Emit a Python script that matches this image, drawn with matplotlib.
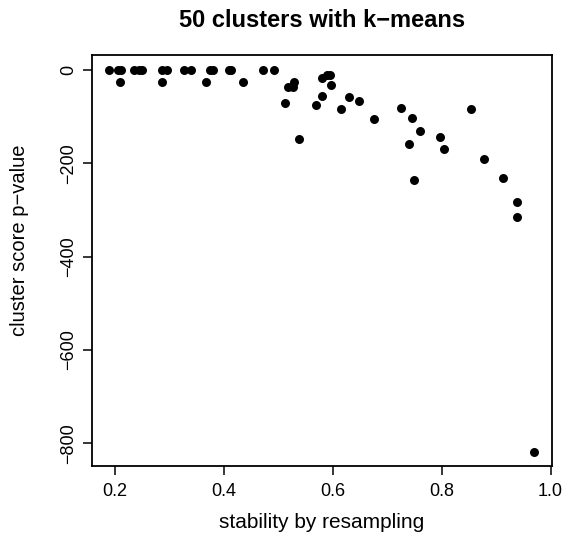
import matplotlib
matplotlib.use("Agg")
import matplotlib.pyplot as plt
import numpy as np

plt.rcParams['font.family'] = ['Liberation Sans', 'DejaVu Sans']

# stability by resampling (x) and cluster score p-value (y)
stability = [0.189, 0.205, 0.211, 0.234, 0.243, 0.249, 0.287, 0.296, 0.327, 0.340,
             0.374, 0.379, 0.409, 0.413, 0.471, 0.492,
             0.209, 0.286, 0.367, 0.435,
             0.513, 0.518, 0.527, 0.529, 0.537, 0.569, 0.580, 0.589, 0.594, 0.597,
             0.581, 0.615, 0.630, 0.649, 0.676, 0.725, 0.746, 0.761, 0.740, 0.797,
             0.804, 0.854, 0.878, 0.750, 0.913, 0.939, 0.939, 0.970]
pvalue = [0, 0, 0, 0, 0, 0, 0, 0, 0, 0,
          0, 0, 0, 0, 0, 0,
          -26, -26, -26, -26,
          -70, -36, -36, -26, -148, -76, -18, -11, -11, -33,
          -55, -84, -58, -66, -106, -81, -102, -130, -158, -144,
          -169, -83, -190, -236, -231, -283, -316, -818]

fig = plt.figure(figsize=(5.64, 5.36), dpi=100)
ax = fig.add_axes([0.1626, 0.1306, 0.978 - 0.1626, 0.8974 - 0.1306])

ax.scatter(stability, pvalue, s=42, color='black', linewidths=0)

ax.set_xlim(0.157, 1.002)
ax.set_ylim(-849, 32)
ax.set_xticks([0.2, 0.4, 0.6, 0.8, 1.0])
ax.set_xticklabels(['0.2', '0.4', '0.6', '0.8', '1.0'])
ax.set_yticks([0, -200, -400, -600, -800])
ax.set_yticklabels(['0', '\u2212200', '\u2212400', '\u2212600', '\u2212800'],
                   rotation=90, va='center')

for s in ax.spines.values():
    s.set_linewidth(1.3)
ax.tick_params(direction='out', length=6.5, width=1.1, labelsize=13)
ax.tick_params(axis='x', pad=6)
ax.tick_params(axis='y', pad=4)

ax.set_xlabel('stability by resampling', fontsize=15, labelpad=9)
ax.set_ylabel('cluster score p\u2212value', fontsize=14.5, va='center')
ax.yaxis.set_label_coords(-0.157, 0.55)
ax.set_title('50 clusters with k\u2212means', fontsize=17, fontweight='bold', pad=20)

fig.savefig('out.png', dpi=100)
